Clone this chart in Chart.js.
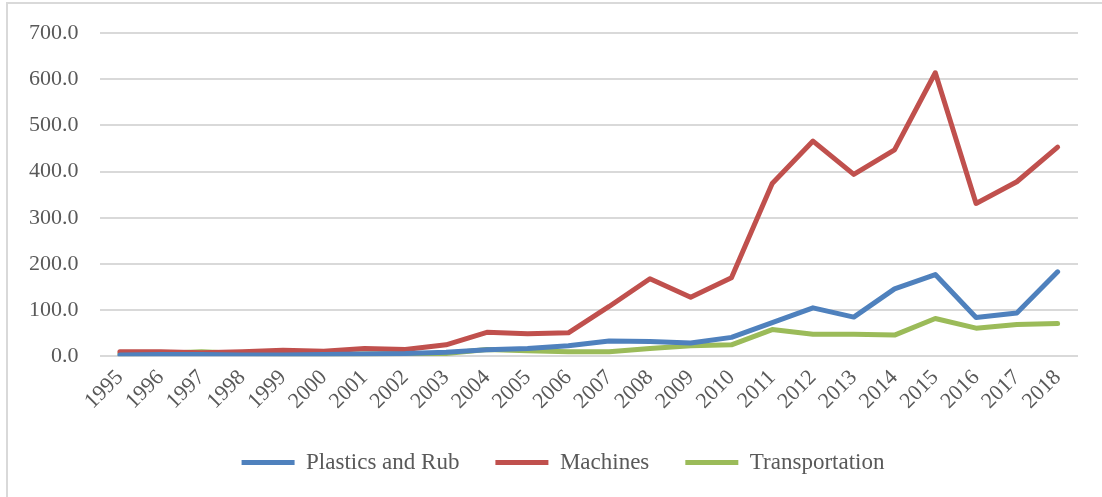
<!DOCTYPE html>
<html>
<head>
<meta charset="utf-8">
<script src="https://cdn.jsdelivr.net/npm/chart.js@4"></script>
<style>
  html, body { margin: 0; padding: 0; background: #fff; }
  #frame {
    position: absolute; left: 6px; top: 2px;
    width: 1096px; height: 495px;
    border-left: 2px solid #d9d9d9; border-top: 2px solid #d9d9d9;
  }
  #chartBox { position: relative; width: 1094px; height: 493px; }
</style>
</head>
<body>
<div id="frame"><div id="chartBox"><canvas id="tradeChart"></canvas></div></div>
<script>
// values
const years = ['1995', '1996', '1997', '1998', '1999', '2000', '2001', '2002', '2003', '2004', '2005', '2006',
               '2007', '2008', '2009', '2010', '2011', '2012', '2013', '2014', '2015', '2016', '2017', '2018'];
const plastics = [3, 4, 4, 3, 3, 4, 5, 6, 9, 14, 17, 23, 33, 32, 29, 41, 73, 105, 85, 146, 177, 84, 94, 183];
const machines = [10, 10, 8, 10, 13, 11, 17, 15, 25, 52, 49, 51, 108, 168, 128, 170, 374, 466, 394, 447, 614, 331, 378, 453];
const transportation = [5, 6, 10, 6, 5, 5, 5, 6, 6, 15, 12, 10, 10, 17, 23, 25, 58, 48, 48, 46, 82, 61, 69, 71];

document.addEventListener('DOMContentLoaded', function() {
    const ctx = document.getElementById('tradeChart').getContext('2d');
    const serif = '"Liberation Serif", "Times New Roman", serif';

    function makeSeries(label, values, color) {
        return {
            label: label,
            data: values,
            borderColor: color,
            backgroundColor: color,
            borderWidth: 5,
            borderCapStyle: 'round',
            borderJoinStyle: 'round',
            pointRadius: 0,
            tension: 0
        };
    }

    // nudge the legend a little to the right, like the original
    const legendShift = {
        id: 'legendShift',
        afterLayout(chart) {
            chart.legend.left += 20;
            chart.legend.right += 20;
        }
    };

    new Chart(ctx, {
        type: 'line',
        data: {
            labels: years,
            datasets: [
                makeSeries('Plastics and Rub', plastics, '#4f81bd'),
                makeSeries('Machines', machines, '#c0504d'),
                makeSeries('Transportation', transportation, '#9bbb59')
            ]
        },
        options: {
            responsive: true,
            maintainAspectRatio: false,
            animation: false,
            layout: { padding: { left: 0, right: 24, top: 8, bottom: 13 } },
            plugins: {
                tooltip: { enabled: false },
                legend: {
                    position: 'bottom',
                    labels: {
                        usePointStyle: true,
                        pointStyle: 'line',
                        pointStyleWidth: 53,
                        padding: 36,
                        color: '#595959',
                        font: { family: serif, size: 23 }
                    }
                }
            },
            scales: {
                x: {
                    offset: true,
                    grid: { display: false },
                    border: { display: false },
                    ticks: {
                        minRotation: 45,
                        maxRotation: 45,
                        autoSkip: false,
                        padding: 2,
                        color: '#595959',
                        font: { family: serif, size: 22, lineHeight: 1.0 }
                    }
                },
                y: {
                    min: 0,
                    max: 700,
                    border: { display: false },
                    grid: { color: '#d9d9d9', lineWidth: 2, drawTicks: false },
                    ticks: {
                        stepSize: 100,
                        padding: 21,
                        color: '#595959',
                        font: { family: serif, size: 22, lineHeight: 0.73 },
                        callback: function(v) { return v.toFixed(1); }
                    }
                }
            }
        },
        plugins: [legendShift]
    });
});
</script>
</body>
</html>
